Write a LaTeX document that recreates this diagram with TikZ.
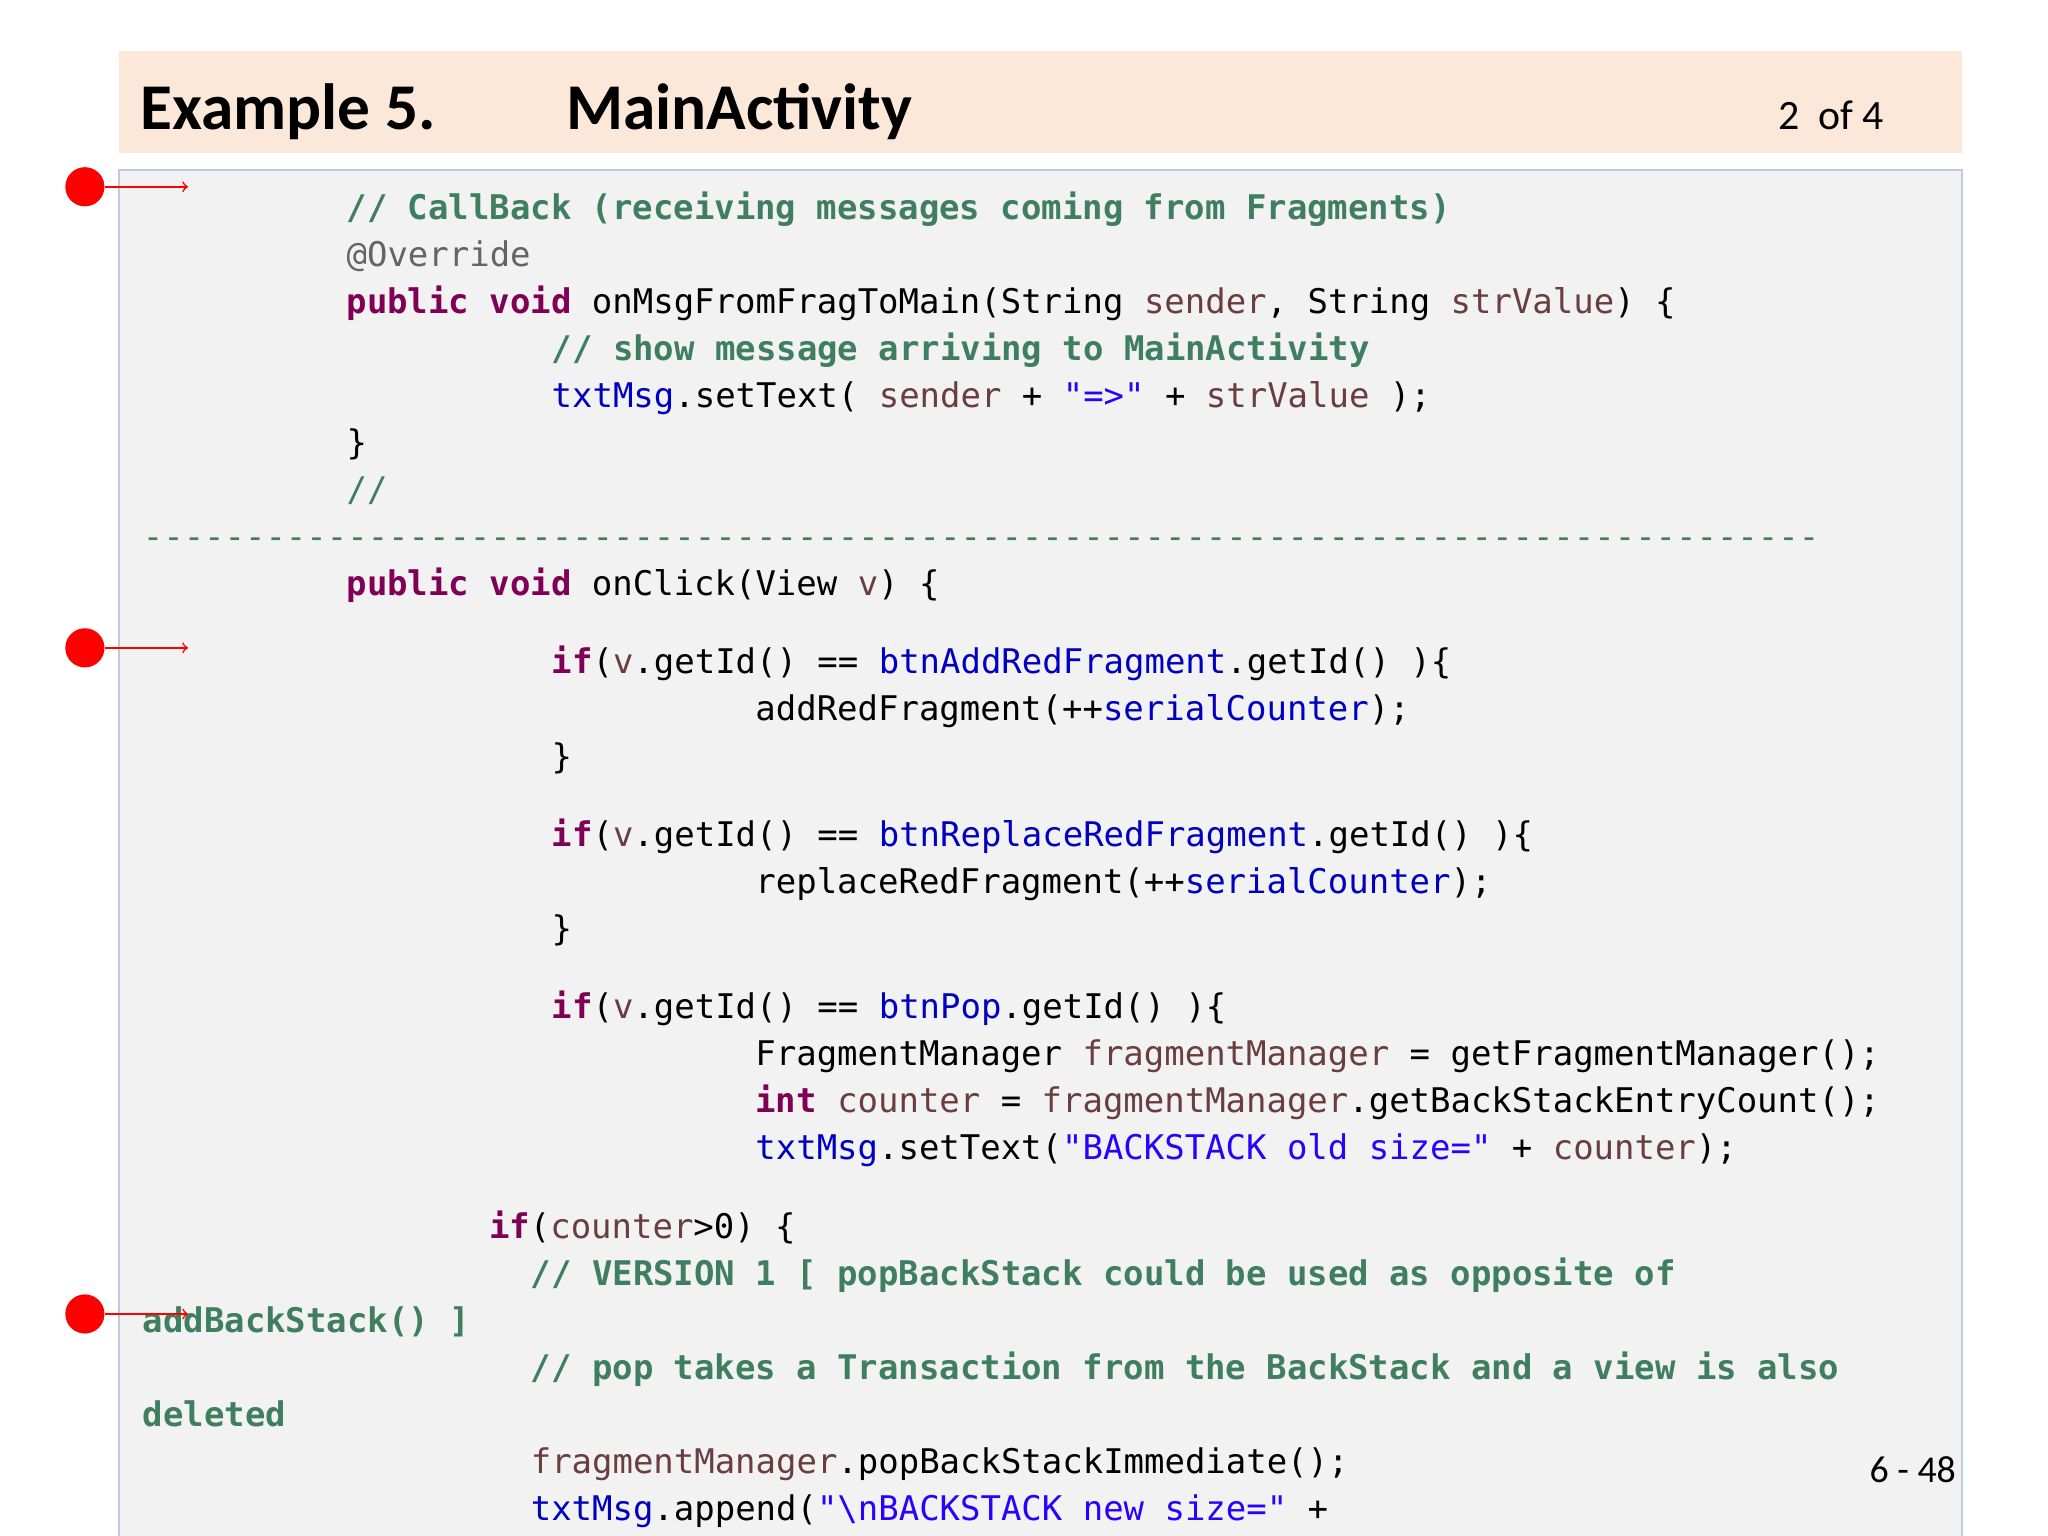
\documentclass[tikz,border=0pt]{standalone}
\usepackage{fontspec}
\setmainfont{Carlito}
\setmonofont{DejaVu Sans Mono}
\definecolor{kw}{HTML}{7F0055}
\definecolor{cm}{HTML}{3F7F5F}
\definecolor{fd}{HTML}{0000C0}
\definecolor{st}{HTML}{2A00FF}
\definecolor{vr}{HTML}{6A3E3E}
\definecolor{an}{HTML}{646464}
\definecolor{hdr}{HTML}{FCE8D9}
\definecolor{cbg}{HTML}{F2F2F2}
\definecolor{cbd}{HTML}{BCCCE0}
\newcommand\K[1]{\textcolor{kw}{\textbf{#1}}}
\newcommand\C[1]{\textcolor{cm}{\textbf{#1}}}
\newcommand\F[1]{\textcolor{fd}{#1}}
\newcommand\Sg[1]{\textcolor{st}{#1}}
\newcommand\V[1]{\textcolor{vr}{#1}}
\begin{document}
\begin{tikzpicture}[x=0.5pt,y=-0.5pt,
  code/.style={anchor=base west,inner sep=0pt,font=\ttfamily\fontsize{13}{15}\selectfont},
  dot/.style={circle,fill=red,inner sep=0pt,minimum size=15pt},
  pointer/.style={red,line width=0.6pt,-to}]
\useasboundingbox (0,0) rectangle (1568,1176);
\fill[white] (0,0) rectangle (1568,1176);
\fill[hdr] (91,39) rectangle (1502,117);
\draw[cbd,fill=cbg,line width=0.6pt] (91,130) -- (91,1180) -- (1502,1180) -- (1502,130) -- cycle;
\node[anchor=base west,inner sep=0pt,font=\fontsize{25}{28}\selectfont\bfseries] (t1) at (107,99) {Example 5.};
\node[anchor=base west,inner sep=0pt,font=\fontsize{25}{28}\selectfont\bfseries] (t2) at (433,99) {MainActivity};
\node[anchor=base west,inner sep=0pt,font=\fontsize{16}{18}\selectfont] (pg) at (1361,99) {2\ \ of 4};
\node[anchor=base west,inner sep=0pt,font=\fontsize{14.5}{16}\selectfont] (sl) at (1431,1135) {6 - 48};
\node[code] (l1) at (265,168) {\C{// CallBack (receiving messages coming from Fragments)}};
\node[code] (l2) at (265,204) {\textcolor{an}{@Override}};
\node[code] (l3) at (265,240) {\K{public} \K{void} onMsgFromFragToMain(String \V{sender}, String \V{strValue}) \{};
\node[code] (l4) at (422,276) {\C{// show message arriving to MainActivity}};
\node[code] (l5) at (422,312) {\F{txtMsg}.setText( \V{sender} + \Sg{"=>"} + \V{strValue} );};
\node[code] (l6) at (265,348) {\}};
\node[code] (l7) at (265,384) {\textcolor{cm}{//}};
\node[code] (l8) at (109,420) {\textcolor{cm}{----------------------------------------------------------------------------------}};
\node[code] (l9) at (265,456) {\K{public} \K{void} onClick(View \V{v}) \{};
\node[code] (l10) at (422,516) {\K{if}(\V{v}.getId() == \F{btnAddRedFragment}.getId() )\{};
\node[code] (l11) at (578,552) {addRedFragment(++\F{serialCounter});};
\node[code] (l12) at (422,588) {\}};
\node[code] (l13) at (422,648) {\K{if}(\V{v}.getId() == \F{btnReplaceRedFragment}.getId() )\{};
\node[code] (l14) at (578,684) {replaceRedFragment(++\F{serialCounter});};
\node[code] (l15) at (422,720) {\}};
\node[code] (l16) at (422,780) {\K{if}(\V{v}.getId() == \F{btnPop}.getId() )\{};
\node[code] (l17) at (578,816) {FragmentManager \V{fragmentManager} = getFragmentManager();};
\node[code] (l18) at (578,852) {\K{int} \V{counter} = \V{fragmentManager}.getBackStackEntryCount();};
\node[code] (l19) at (578,888) {\F{txtMsg}.setText(\Sg{"BACKSTACK old size="} + \V{counter});};
\node[code] (l20) at (374,948) {\K{if}(\V{counter}>0) \{};
\node[code] (l21) at (406,984) {\C{// VERSION 1 [ popBackStack could be used as opposite of}};
\node[code] (l22) at (109,1020) {\C{addBackStack() ]}};
\node[code] (l23) at (406,1056) {\C{// pop takes a Transaction from the BackStack and a view is also}};
\node[code] (l24) at (109,1092) {\C{deleted}};
\node[code] (l25) at (406,1128) {\V{fragmentManager}.popBackStackImmediate();};
\node[code] (l26) at (406,1164) {\F{txtMsg}.append(\Sg{"\textbackslash nBACKSTACK new size="} +};
\node[dot] (d1) at (65,143) {};
\node[dot] (d2) at (65,496) {};
\node[dot] (d3) at (65,1006) {};
\coordinate (e1) at (144,143);
\coordinate (e2) at (144,496);
\coordinate (e3) at (144,1006);
\draw[pointer] (d1.east) -- (e1);
\draw[pointer] (d2.east) -- (e2);
\draw[pointer] (d3.east) -- (e3);
\end{tikzpicture}
\end{document}
